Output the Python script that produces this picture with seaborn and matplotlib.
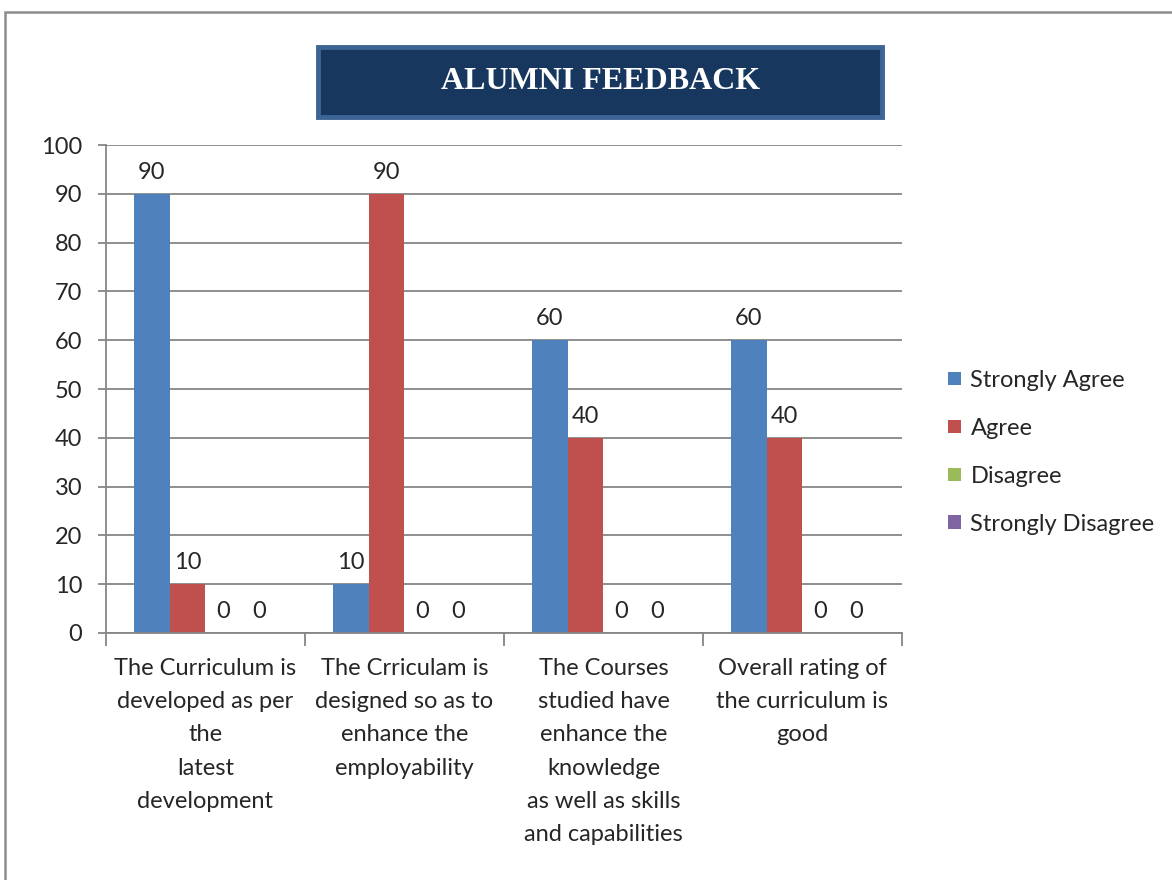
import pandas as pd
import numpy as np
import matplotlib.pyplot as plt
import seaborn as sns
from matplotlib.patches import Rectangle, Patch

# chart data
questions = [
    "The Curriculum is\ndeveloped as per\nthe\nlatest\ndevelopment",
    "The Crriculam is\ndesigned so as to\nenhance the\nemployability",
    "The Courses\nstudied have\nenhance the\nknowledge\nas well as skills\nand capabilities",
    "Overall rating of\nthe curriculum is\ngood",
]
responses = ["Strongly Agree", "Agree", "Disagree", "Strongly Disagree"]
strongly_agree = [90, 10, 60, 60]
agree = [10, 90, 40, 40]
disagree = [0, 0, 0, 0]
strongly_disagree = [0, 0, 0, 0]
colors = ["#4F81BD", "#C0504D", "#9BBB59", "#8064A2"]

# long-form table for seaborn
df = pd.DataFrame({
    "question": questions * 4,
    "response": np.repeat(responses, 4),
    "value": strongly_agree + agree + disagree + strongly_disagree,
})

sns.set_style("white")
plt.rcParams["font.family"] = ["Lato", "DejaVu Sans"]
fs = 17

fig = plt.figure(figsize=(11.72, 8.8), dpi=100)
ax = fig.add_axes([0.0904, 0.2807, 0.6792, 0.5545])

sns.barplot(data=df, x="question", y="value", hue="response", hue_order=responses,
            palette=colors, width=0.72, saturation=1, linewidth=0, legend=False, ax=ax)

# value labels
for cont in ax.containers:
    ax.bar_label(cont, fmt="%g", padding=8, fontsize=fs)

grid_col = "#868686"
ax.set_ylim(0, 100)
ax.set_xlim(-0.5, 3.5)
ax.set_yticks(range(0, 101, 10))
ax.yaxis.grid(True, color=grid_col, linewidth=1.3)
ax.set_axisbelow(True)
ax.set_xlabel("")
ax.set_ylabel("")
for s in ["top", "right"]:
    ax.spines[s].set_visible(False)
for s in ["left", "bottom"]:
    ax.spines[s].set_color(grid_col)
    ax.spines[s].set_linewidth(1.3)

ax.tick_params(axis="y", length=6, width=1.3, color=grid_col, pad=11, labelsize=fs, left=True)
ax.set_xticks(np.arange(-0.5, 4, 1), minor=True)
ax.tick_params(axis="x", which="minor", length=9, width=1.3, color=grid_col, bottom=True)
ax.tick_params(axis="x", which="major", length=0, pad=18, labelsize=fs)
for lbl in ax.get_xticklabels():
    lbl.set_linespacing(1.72)
    lbl.set_verticalalignment("top")

# legend
handles = [Patch(facecolor=c, edgecolor="none") for c in colors]
fig.legend(handles, responses, loc="center left", bbox_to_anchor=(0.799, 0.486),
           frameon=False, fontsize=fs, handlelength=0.52, handleheight=0.52,
           handletextpad=0.42, labelspacing=1.14, borderpad=0)

# title box
fig.add_artist(Rectangle((0.2713, 0.867), 0.4813, 0.0796, transform=fig.transFigure,
                         facecolor="#17375E", edgecolor="#3C6494", linewidth=3.5))
fig.text(0.512, 0.907, "ALUMNI FEEDBACK", ha="center", va="center", color="white",
         fontsize=23, fontweight="bold", family=["Liberation Serif", "DejaVu Serif"])

# outer frame of the chart
fig.add_artist(Rectangle((0.0045, -0.1), 1.2, 1.0864, transform=fig.transFigure,
                         facecolor="none", edgecolor="#8C8C8C", linewidth=1.8))

fig.savefig("out.png", dpi=100)
